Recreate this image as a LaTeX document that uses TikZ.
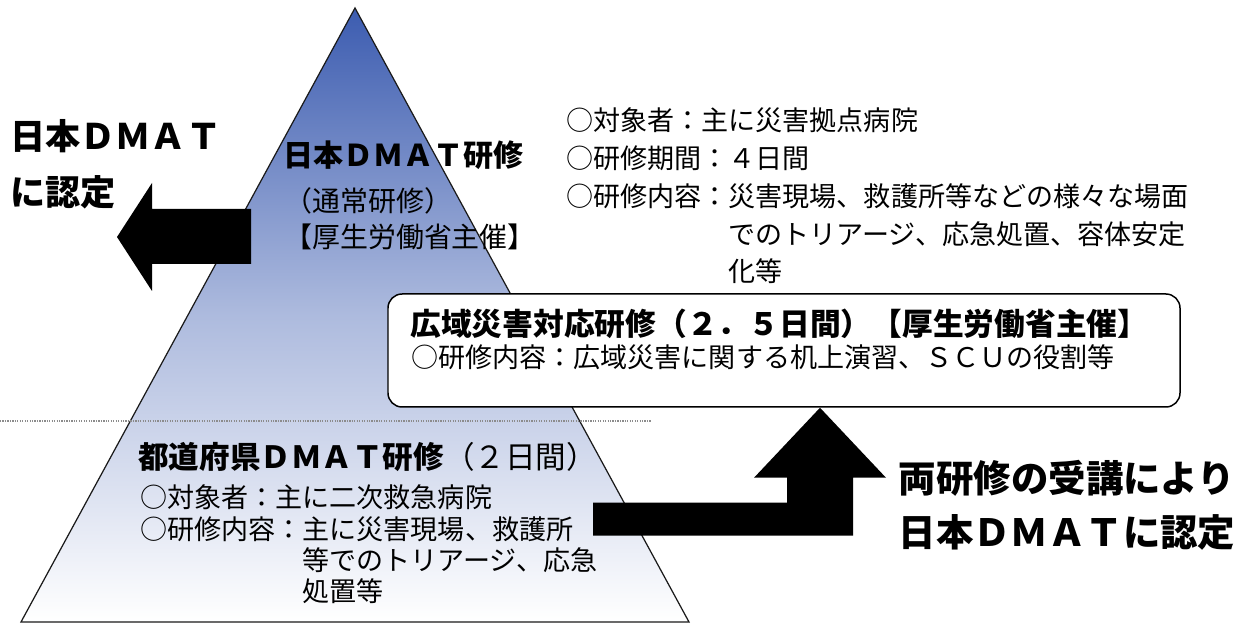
\documentclass[tikz,border=0pt]{standalone}
\usepackage{fontspec}
\setmainfont{Noto Sans CJK JP}
\usepackage{xcolor}
\definecolor{pyrTop}{RGB}{60,92,176}
\definecolor{pyrEdge}{HTML}{1A1A1A}
\definecolor{dotGray}{HTML}{8C8C8C}
\usepackage{tikz}
\usetikzlibrary{fit}
\tikzset{
    heading/.style={
        inner sep=0pt,
        align=left,
        anchor=base west,
        font=\bfseries\fontsize{17.1}{24}\selectfont
    },
    body/.style={
        inner sep=0pt,
        align=left,
        anchor=base west,
        font=\fontsize{15.4}{21.6}\selectfont
    },
    bigtext/.style={
        inner sep=0pt,
        font=\bfseries\fontsize{20}{31.9}\selectfont
    },
    widebox/.style={
        draw=black,
        fill=white,
        rounded corners=8pt,
        line width=0.85pt,
        inner sep=0pt
    },
    blockarrow/.style={
        fill=black
    }
}

\begin{document}
\begin{tikzpicture}[x=0.02cm, y=-0.02cm]
    \useasboundingbox (0,0) rectangle (1245,624);

    % Pyramid
    \shade[top color=pyrTop, bottom color=white, middle color=pyrTop!42!white]
        (355,8) -- (689,622) -- (21,622) -- cycle;
    \draw[pyrEdge, line width=0.7pt] (355,8) -- (689,622) -- (21,622) -- cycle;

    % Level divider
    \draw[dotGray, line width=1.1pt, dash pattern=on 0.7pt off 0.7pt] (0,421) -- (651,421);

    % Top level (base anchor = last line)
    \node[heading] (toptitle) at (283,167) {日本ＤＭＡＴ研修};
    \node[body, font=\fontsize{15.9}{21}\selectfont] (topsub) at (284,248)
        {（通常研修）\\【厚生労働省主催】};
    \node[body] (topinfo) at (566,282)
        {○対象者：主に災害拠点病院\\
         ○研修期間：４日間\\
         ○研修内容：災害現場、救護所等などの様々な場面\\
         \hspace*{6em}でのトリアージ、応急処置、容体安定\\
         \hspace*{6em}化等};

    % Wide-area training
    \node[widebox, fit={(388,294) (1180,407)}] (wide) {};
    \node[heading, font=\bfseries\fontsize{17.5}{24}\selectfont] (widetitle) at (410,336)
        {広域災害対応研修（２．５日間）【厚生労働省主催】};
    \node[body] (widebody) at (411,368)
        {○研修内容：広域災害に関する机上演習、ＳＣＵの役割等};

    % Prefecture level
    \node[heading, font=\fontsize{17.4}{24}\selectfont] (lowtitle) at (138,469)
        {{\bfseries 都道府県ＤＭＡＴ研修}（２日間）};
    \node[body, font=\fontsize{15.4}{17.9}\selectfont] (lowinfo) at (140,602)
        {○対象者：主に二次救急病院\\
         ○研修内容：主に災害現場、救護所\\
         \hspace*{6em}等でのトリアージ、応急\\
         \hspace*{6em}処置等};

    % Certification labels
    \node[bigtext, align=left, anchor=base west] (leftlbl) at (10,206)
        {日本ＤＭＡＴ\\に認定};
    \node[bigtext, font=\bfseries\fontsize{21.3}{31.3}\selectfont, align=center, anchor=base]
        (rightlbl) at (1067,547) {両研修の受講により\\日本ＤＭＡＴに認定};

    % Left arrow
    \coordinate (lefttip) at (117,237);
    \fill[blockarrow] (lefttip) -- ++(35,-54) -- ++(0,26) -- ++(99,0)
        -- ++(0,55) -- ++(-99,0) -- ++(0,27) -- cycle;

    % Bent arrow up to the box
    \path (wide.south) ++(36,0) coordinate (uptip);
    \fill[blockarrow] (uptip) -- ++(66,70) -- ++(-33,0) -- ++(0,58)
        -- ++(-260,0) -- ++(0,-33) -- ++(194,0) -- ++(0,-25)
        -- ++(-33,0) -- cycle;
\end{tikzpicture}
\end{document}
